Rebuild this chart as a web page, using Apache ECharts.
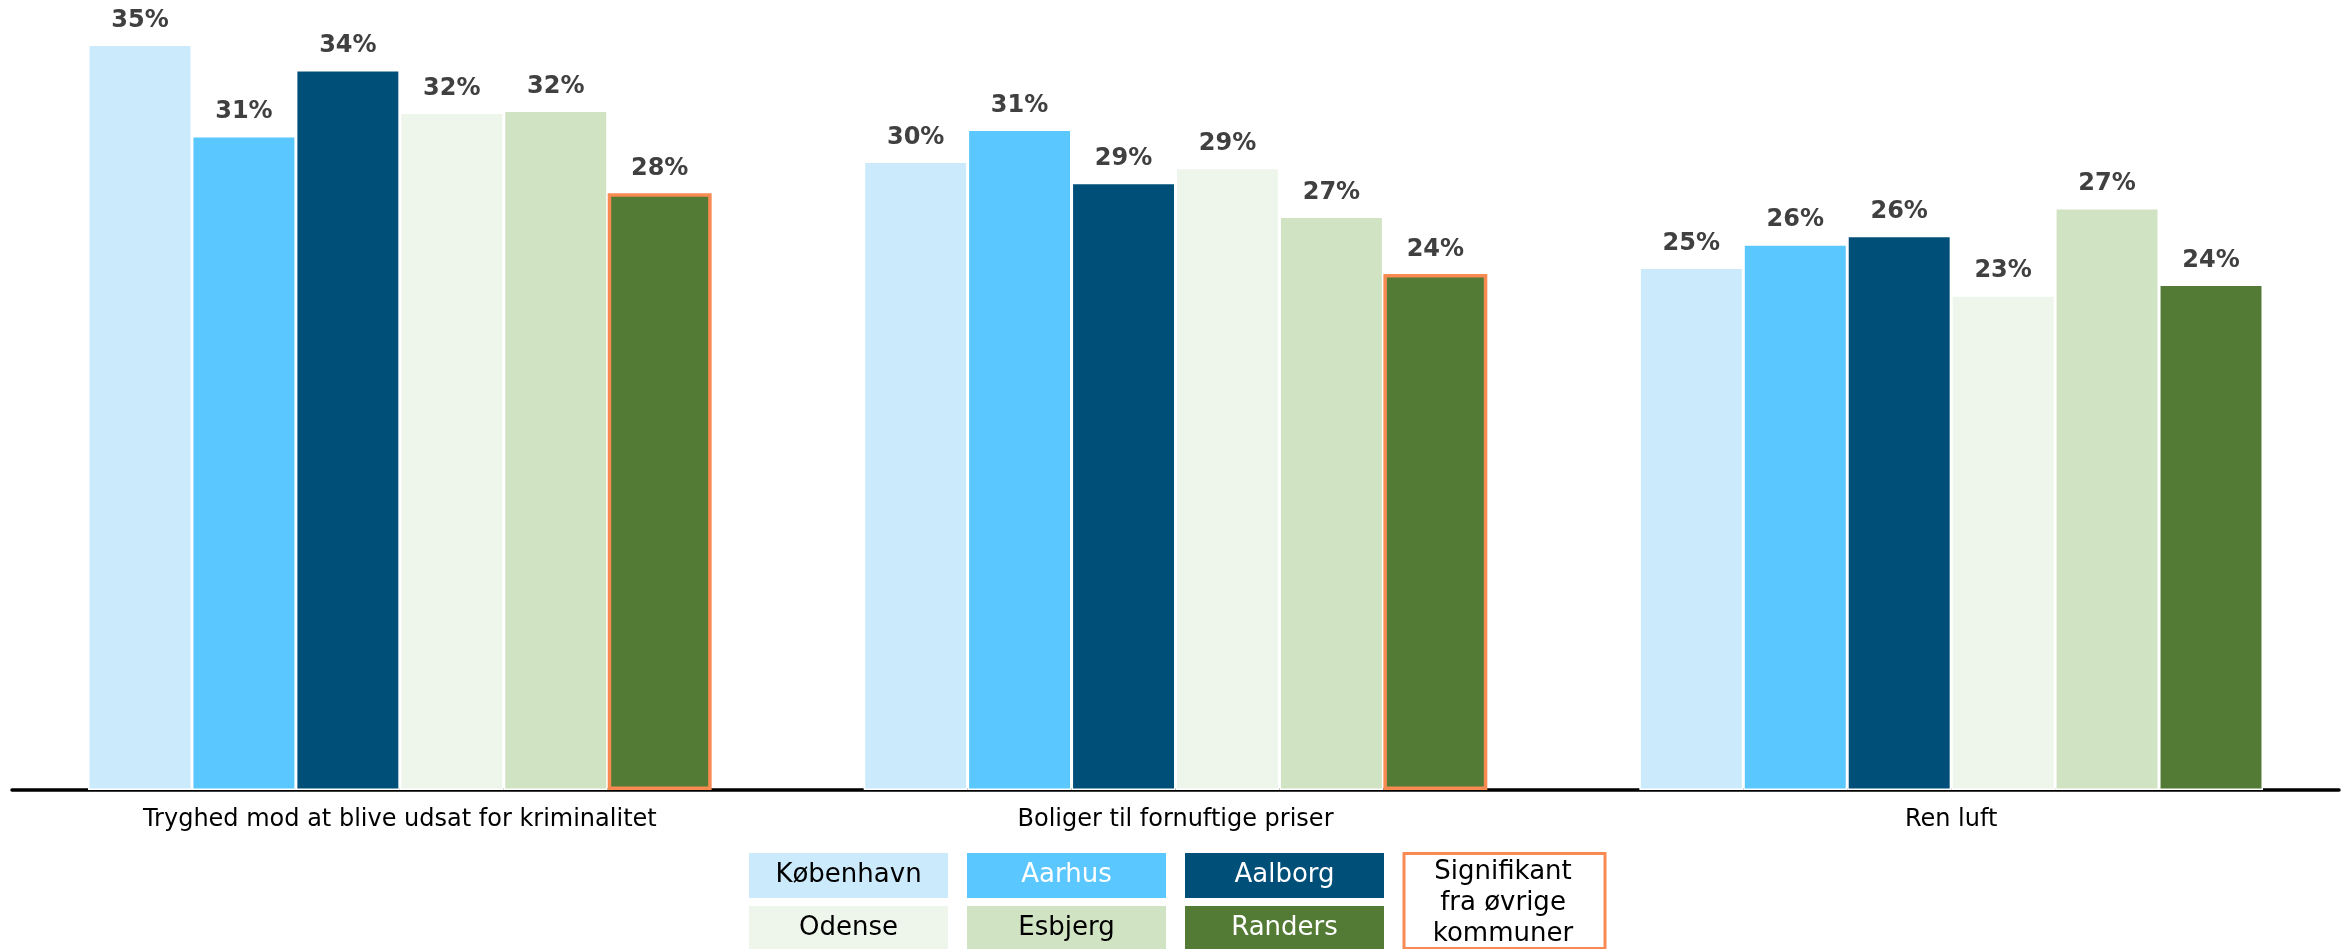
<!DOCTYPE html>
<html>
<head>
<meta charset="utf-8">
<script src="https://cdn.jsdelivr.net/npm/echarts@6/dist/echarts.min.js"></script>
<style>
html,body{margin:0;padding:0;background:#fff;}
#chart{width:2346px;height:949px;}
</style>
</head>
<body>
<div id="chart"></div>
<script>
// Data
const categories = ['Tryghed mod at blive udsat for kriminalitet', 'Boliger til fornuftige priser', 'Ren luft'];
const cityNames = ['København', 'Aarhus', 'Aalborg', 'Odense', 'Esbjerg', 'Randers'];
const kobenhavn = [35.1, 29.6, 24.6];
const aarhus    = [30.8, 31.1, 25.7];
const aalborg   = [33.9, 28.6, 26.1];
const odense    = [31.9, 29.3, 23.3];
const esbjerg   = [32.0, 27.0, 27.4];
const randers   = [28.1, 24.3, 23.8];
const randersSignificant = [true, true, false];
const significantLabel = 'Signifikant\nfra øvrige\nkommuner';

const cityColors = ['#CBEBFC', '#5BC7FF', '#004F79', '#EEF6EB', '#D0E3C3', '#537B36'];
const legendTextColors = ['#000', '#fff', '#fff', '#000', '#000', '#fff'];
const sigColor = '#F88A52';
const FONT = '"DejaVu Sans", Verdana, sans-serif';

const seriesValues = [kobenhavn, aarhus, aalborg, odense, esbjerg, randers];

const series = seriesValues.map((vals, i) => ({
  name: cityNames[i],
  type: 'bar',
  barGap: '0%',
  barCategoryGap: '19.6%',
  data: vals.map((v, j) => {
    const sig = (i === 5 && randersSignificant[j]);
    return {
      value: v,
      itemStyle: sig ? { borderColor: sigColor, borderWidth: 3.5 } : {}
    };
  }),
  itemStyle: { color: cityColors[i], borderColor: '#fff', borderWidth: 1.5 },
  label: {
    show: true,
    position: 'top',
    distance: 12,
    formatter: p => Math.round(p.value) + '%',
    fontFamily: FONT,
    fontWeight: 'bold',
    fontSize: 24,
    color: '#404040'
  }
}));

// Legend boxes as graphics
const boxW = 199, boxH = 45, pitchX = 218;
const legendX0 = 749, row1Y = 853, row2Y = 906;
const graphics = [];
cityNames.forEach((name, i) => {
  const col = i % 3, row = Math.floor(i / 3);
  const x = legendX0 + col * pitchX;
  const y = row === 0 ? row1Y : row2Y;
  graphics.push({
    type: 'rect', left: x, top: y,
    shape: { width: boxW, height: boxH },
    style: { fill: cityColors[i] }, silent: true
  });
  graphics.push({
    type: 'text', x: x + boxW / 2, y: y + boxH / 2,
    style: {
      text: name, fill: legendTextColors[i], font: '26px ' + FONT,
      align: 'center', verticalAlign: 'middle'
    }, silent: true
  });
});
const sigX = legendX0 + 3 * pitchX - 0.5;
graphics.push({
  type: 'rect', left: sigX, top: 852,
  shape: { x: 0, y: 0, width: boxW + 2, height: 95 },
  style: { fill: '#fff', stroke: sigColor, lineWidth: 3 }, silent: true
});
graphics.push({
  type: 'text', x: sigX + boxW / 2 + 1, y: 903,
  style: {
    text: significantLabel, fill: '#000', font: '26px ' + FONT,
    align: 'center', verticalAlign: 'middle', lineHeight: 31
  }, silent: true
});

const chart = echarts.init(document.getElementById('chart'));
chart.setOption({
  backgroundColor: '#fff',
  animation: false,
  grid: { left: 12, right: 7, top: 0, bottom: 159, containLabel: false },
  legend: { show: false },
  xAxis: {
    type: 'category',
    data: categories,
    axisLine: { show: true, lineStyle: { color: '#000', width: 3.5 } },
    axisTick: { show: false },
    axisLabel: { fontFamily: FONT, fontSize: 24, color: '#000', margin: 18 }
  },
  yAxis: {
    type: 'value', min: 0, max: 37.2,
    show: false,
    splitLine: { show: false }
  },
  series: series,
  graphic: graphics
});
</script>
</body>
</html>
